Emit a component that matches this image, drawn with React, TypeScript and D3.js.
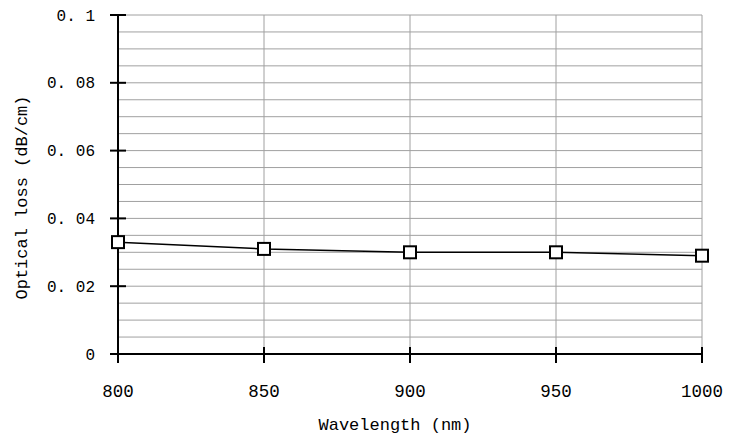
import * as d3 from "d3";

const wavelengths = [800, 850, 900, 950, 1000];
const lossValues = [0.033, 0.031, 0.03, 0.03, 0.029];
const yMajorTicks = [0, 0.02, 0.04, 0.06, 0.08, 0.1];
const yMinorTicks = d3.range(1, 21).map((i) => i * 0.005);
const xTicks = [800, 850, 900, 950, 1000];

const W = 730;
const H = 438;
const margin = { top: 15, right: 28, bottom: 84, left: 118 };

const font = "Liberation Mono, DejaVu Sans Mono, monospace";

const fmtY = (d) => (d === 0 ? "0" : d3.format(".2~f")(d).replace(".", ". "));

export default function App() {
    const x = d3
        .scaleLinear()
        .domain([800, 1000])
        .range([margin.left, W - margin.right]);
    const y = d3
        .scaleLinear()
        .domain([0, 0.1])
        .range([H - margin.bottom, margin.top]);

    const line = d3
        .line()
        .x((d) => x(d[0]))
        .y((d) => y(d[1]));
    const pts = wavelengths.map((w, i) => [w, lossValues[i]]);

    const [x0, x1] = x.range();
    const [y0, y1] = y.range();

    return (
        <div style={{ position: "absolute", left: 0, top: 0 }}>
            <svg width={W} height={H} style={{ display: "block", background: "#fff", fontFamily: font }}>
                {/* horizontal grid */}
                {yMinorTicks.map((t) => (
                    <line
                        key={`hg-${t}`}
                        x1={x0}
                        x2={x1}
                        y1={y(t)}
                        y2={y(t)}
                        stroke="#a0a0a0"
                        strokeWidth={1}
                    />
                ))}
                {/* vertical grid */}
                {xTicks.slice(1).map((t) => (
                    <line
                        key={`vg-${t}`}
                        x1={x(t)}
                        x2={x(t)}
                        y1={y0}
                        y2={y1}
                        stroke="#a0a0a0"
                        strokeWidth={1}
                    />
                ))}
                {/* axes */}
                <line x1={x0} x2={x0} y1={y0} y2={y1} stroke="#000" strokeWidth={2} />
                <line x1={x0} x2={x1} y1={y0} y2={y0} stroke="#000" strokeWidth={2} />
                {yMajorTicks.map((t) => (
                    <g key={`yt-${t}`}>
                        <line
                            x1={x0 - 8}
                            x2={x0 + 8}
                            y1={y(t)}
                            y2={y(t)}
                            stroke="#000"
                            strokeWidth={2}
                        />
                        <text
                            x={x0 - 23}
                            y={y(t)}
                            dy="0.35em"
                            textAnchor="end"
                            fontSize={16}
                        >
                            {fmtY(t)}
                        </text>
                    </g>
                ))}
                {xTicks.map((t) => (
                    <g key={`xt-${t}`}>
                        <line
                            x1={x(t)}
                            x2={x(t)}
                            y1={y0 - 7}
                            y2={y0 + 9}
                            stroke="#000"
                            strokeWidth={2}
                        />
                        <text
                            x={x(t)}
                            y={y0 + 43}
                            textAnchor="middle"
                            fontSize={17.5}
                        >
                            {t}
                        </text>
                    </g>
                ))}
                {/* series */}
                <path d={line(pts)} fill="none" stroke="#000" strokeWidth={1.5} />
                {pts.map((p, i) => (
                    <rect
                        key={`m-${i}`}
                        x={x(p[0]) - 6}
                        y={y(p[1]) - 6}
                        width={12}
                        height={12}
                        fill="#fff"
                        stroke="#000"
                        strokeWidth={2}
                    />
                ))}
                {/* titles */}
                <text
                    x={395}
                    y={430}
                    textAnchor="middle"
                    fontSize={17}
                >
                    Wavelength (nm)
                </text>
                <text
                    transform={`translate(27, ${(y0 + y1) / 2 + 13}) rotate(-90)`}
                    textAnchor="middle"
                    fontSize={17}
                >
                    Optical loss (dB/cm)
                </text>
            </svg>
        </div>
    );
}
